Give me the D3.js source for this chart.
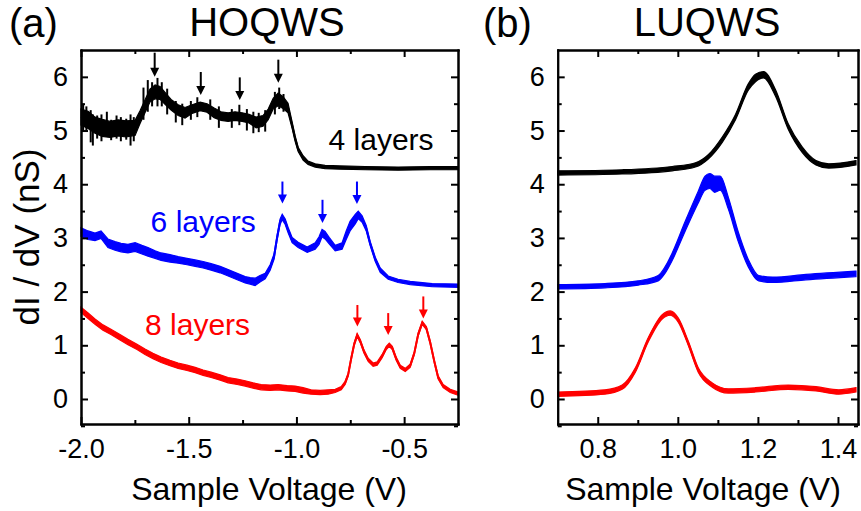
<!DOCTYPE html>
<html lang="en">
<head>
<meta charset="UTF-8">
<title>HOQWS / LUQWS dI/dV spectra</title>
<style>
  body, html { margin: 0; background: #fff; overflow: hidden; }
  text { font-family: "Liberation Sans", Arial, sans-serif; fill: #000; }
  .axis path, .axis line { stroke: #000; stroke-width: 2px; }
</style>
</head>
<body>
<div id="chart"></div>
<script src="https://d3js.org/d3.v7.min.js"></script>
<script>
// each point: [sample voltage (V), dI/dV (nS), noise half-width (nS)]
const hoqws4 = [
  [-2.000,5.25,.15],[-1.967,5.20,.16],[-1.935,5.10,.15],[-1.902,5.05,.16],[-1.865,5.02,.15],
  [-1.828,5.05,.15],[-1.791,5.03,.15],[-1.749,5.05,.14],[-1.726,5.25,.12],[-1.703,5.45,.12],
  [-1.680,5.65,.12],[-1.656,5.72,.13],[-1.633,5.70,.12],[-1.610,5.60,.11],[-1.582,5.48,.10],
  [-1.549,5.38,.10],[-1.517,5.33,.10],[-1.484,5.40,.08],[-1.447,5.45,.08],[-1.415,5.42,.08],
  [-1.382,5.33,.09],[-1.350,5.27,.08],[-1.317,5.25,.08],[-1.285,5.27,.08],[-1.252,5.25,.08],
  [-1.220,5.22,.08],[-1.187,5.15,.10],[-1.155,5.18,.10],[-1.131,5.30,.10],[-1.108,5.50,.10],
  [-1.085,5.58,.12],[-1.062,5.52,.11],[-1.039,5.42,.09],[-1.020,5.10,.06],[-1.006,4.85,.05],
  [-0.992,4.65,.04],[-0.969,4.49,.04],[-0.946,4.40,.03],[-0.913,4.35,.03],[-0.867,4.32,.03],
  [-0.797,4.31,.03],[-0.681,4.30,.03],[-0.528,4.29,.03],[-0.379,4.30,.03],[-0.250,4.30,.03]
];
// single noise spikes: [voltage, low, high]
const spikes4 = [
  [-1.990,4.98,5.50],[-1.975,5.00,5.45],[-1.955,4.78,5.38],[-1.945,4.72,5.30],[-1.925,4.85,5.28],
  [-1.905,4.80,5.30],[-1.880,4.95,5.35],[-1.860,4.82,5.20],[-1.835,4.85,5.28],[-1.815,4.80,5.25],
  [-1.790,4.83,5.22],[-1.770,4.72,5.30],[-1.755,4.80,5.25],[-1.710,5.20,5.80],[-1.690,5.35,5.94],
  [-1.670,5.45,5.90],[-1.645,5.45,5.98],[-1.625,5.45,5.90],[-1.600,5.30,5.78],[-1.560,5.15,5.55],
  [-1.530,5.10,5.50],[-1.490,5.20,5.55],[-1.460,5.25,5.62],[-1.400,5.20,5.58],[-1.360,5.05,5.45],
  [-1.300,5.05,5.40],[-1.265,5.10,5.48],[-1.230,5.00,5.40],[-1.200,4.95,5.35],[-1.175,4.97,5.33],
  [-1.145,4.98,5.38],[-1.100,5.30,5.72],[-1.080,5.40,5.80],[-1.060,5.35,5.68]
];
const hoqws6 = [
  [-2.000,3.11,.08],[-1.967,3.05,.08],[-1.935,3.02,.07],[-1.907,3.06,.07],[-1.875,2.90,.08],
  [-1.842,2.85,.08],[-1.814,2.82,.08],[-1.782,2.80,.08],[-1.749,2.83,.08],[-1.717,2.78,.08],
  [-1.689,2.74,.08],[-1.656,2.69,.07],[-1.628,2.65,.07],[-1.587,2.62,.07],[-1.549,2.59,.06],
  [-1.508,2.56,.06],[-1.470,2.53,.06],[-1.433,2.50,.06],[-1.396,2.46,.06],[-1.354,2.41,.06],
  [-1.317,2.35,.06],[-1.275,2.28,.06],[-1.238,2.22,.06],[-1.215,2.20,.06],[-1.192,2.18,.07],
  [-1.169,2.24,.06],[-1.145,2.29,.05],[-1.122,2.45,.05],[-1.104,2.65,.05],[-1.090,3.00,.05],
  [-1.076,3.30,.05],[-1.066,3.39,.05],[-1.052,3.30,.05],[-1.039,3.15,.05],[-1.020,2.96,.05],
  [-0.992,2.87,.05],[-0.950,2.78,.05],[-0.913,2.85,.06],[-0.895,2.95,.07],[-0.881,3.09,.07],
  [-0.867,3.05,.07],[-0.848,2.95,.06],[-0.820,2.81,.05],[-0.788,2.85,.06],[-0.769,3.05,.08],
  [-0.751,3.22,.09],[-0.727,3.35,.09],[-0.713,3.43,.07],[-0.695,3.35,.06],[-0.676,3.18,.05],
  [-0.658,2.90,.04],[-0.634,2.60,.04],[-0.611,2.40,.04],[-0.574,2.26,.03],[-0.528,2.20,.03],
  [-0.472,2.16,.03],[-0.370,2.12,.03],[-0.250,2.11,.03]
];
const hoqws8 = [
  [-2.000,1.66,.05],[-1.967,1.55,.05],[-1.935,1.44,.05],[-1.898,1.33,.05],[-1.861,1.25,.05],
  [-1.819,1.15,.05],[-1.782,1.06,.05],[-1.740,0.97,.05],[-1.703,0.88,.05],[-1.666,0.80,.05],
  [-1.628,0.73,.05],[-1.587,0.67,.05],[-1.549,0.62,.05],[-1.508,0.58,.05],[-1.470,0.54,.05],
  [-1.433,0.49,.05],[-1.396,0.45,.05],[-1.354,0.40,.05],[-1.317,0.35,.05],[-1.275,0.32,.05],
  [-1.238,0.29,.05],[-1.201,0.25,.05],[-1.164,0.22,.05],[-1.122,0.21,.05],[-1.085,0.22,.05],
  [-1.043,0.20,.05],[-1.006,0.19,.05],[-0.969,0.16,.05],[-0.932,0.13,.04],[-0.890,0.12,.04],
  [-0.853,0.13,.04],[-0.820,0.15,.03],[-0.792,0.20,.03],[-0.774,0.30,.03],[-0.760,0.45,.03],
  [-0.746,0.75,.03],[-0.732,1.02,.03],[-0.718,1.19,.03],[-0.704,1.08,.03],[-0.686,0.88,.03],
  [-0.667,0.73,.03],[-0.644,0.64,.03],[-0.625,0.66,.03],[-0.602,0.80,.03],[-0.583,0.95,.03],
  [-0.569,1.01,.03],[-0.555,0.95,.03],[-0.537,0.75,.03],[-0.518,0.60,.03],[-0.495,0.54,.03],
  [-0.472,0.62,.03],[-0.453,0.85,.03],[-0.435,1.20,.03],[-0.416,1.42,.03],[-0.397,1.32,.03],
  [-0.379,1.05,.03],[-0.360,0.70,.03],[-0.342,0.40,.03],[-0.319,0.24,.03],[-0.286,0.15,.03],
  [-0.250,0.10,.03]
];
const luqws4 = [
  [0.700,4.21,.04],[0.861,4.23,.04],[0.986,4.29,.04],[1.044,4.36,.04],[1.076,4.51,.04],
  [1.111,4.83,.05],[1.144,5.25,.05],[1.176,5.81,.06],[1.194,5.98,.07],[1.214,6.04,.06],
  [1.244,5.70,.06],[1.276,5.07,.05],[1.311,4.64,.05],[1.345,4.40,.04],[1.377,4.34,.04],
  [1.445,4.40,.04]
];
const luqws6 = [
  [0.700,2.09,.04],[0.818,2.11,.04],[0.901,2.16,.04],[0.951,2.25,.05],[0.968,2.40,.06],
  [0.986,2.65,.07],[1.018,3.21,.09],[1.051,3.76,.11],[1.068,4.02,.13],[1.080,4.06,.14],
  [1.092,4.00,.15],[1.106,4.02,.13],[1.126,3.65,.11],[1.151,3.02,.09],[1.176,2.53,.07],
  [1.202,2.25,.05],[1.237,2.22,.05],[1.320,2.27,.05],[1.445,2.33,.05]
];
const luqws8 = [
  [0.700,0.09,.04],[0.818,0.13,.04],[0.861,0.22,.04],[0.894,0.54,.04],[0.926,1.10,.04],
  [0.961,1.53,.04],[0.981,1.60,.04],[1.001,1.47,.04],[1.026,1.04,.04],[1.051,0.54,.04],
  [1.086,0.26,.04],[1.126,0.15,.04],[1.194,0.17,.04],[1.276,0.22,.04],[1.345,0.19,.04],
  [1.402,0.13,.04],[1.445,0.17,.04]
];
// arrows: [voltage, tail y, tip y]
const arrows4 = [[-1.658,6.45,6.00],[-1.444,6.09,5.66],[-1.263,5.99,5.57],[-1.084,6.32,5.89]];
const arrows6 = [[-1.065,4.05,3.64],[-0.879,3.71,3.28],[-0.719,4.05,3.63]];
const arrows8 = [[-0.717,1.75,1.35],[-0.574,1.60,1.19],[-0.411,1.91,1.50]];
// curve labels: [text, centre voltage, baseline y]
const layerLabels = [["4 layers",-0.607,4.64],["6 layers",-1.433,3.11],["8 layers",-1.459,1.19]];
const colors = ["#000000","#0000ff","#ff0000"];

const xTicksA = [-2.0,-1.5,-1.0,-0.5], xMinorA = [-1.75,-1.25,-0.75,-0.25];
const xTicksB = [0.8,1.0,1.2,1.4], xMinorB = [0.9,1.1,1.3];
const yTicks = [0,1,2,3,4,5,6], yMinor = [-0.5,0.5,1.5,2.5,3.5,4.5,5.5];

const W = 861, H = 511;
const svg = d3.select("#chart").append("svg").attr("width", W).attr("height", H);

const y = d3.scaleLinear().domain([-0.466, 6.5]).range([424, 50]);
const xA = d3.scaleLinear().domain([-2.0, -0.25]).range([81, 458]);
const xB = d3.scaleLinear().domain([0.7, 1.45]).range([557.7, 858]);

// plain hyphen instead of the unicode minus d3 uses
const fmt1 = v => d3.format(".1f")(v).replace("\u2212", "-");

function frame(x, majors, minors) {
  const [x0, x1] = x.range(), [y0, y1] = y.range();
  const inside = minors.filter(v => v > x.domain()[0] && v < x.domain()[1]);
  const g = svg.append("g");
  g.append("g").attr("class", "axis").attr("transform", `translate(0,${y0})`)
    .call(d3.axisBottom(x).tickValues(majors).tickSize(-7).tickSizeOuter(0).tickPadding(15).tickFormat(fmt1))
    .call(a => a.selectAll("text").attr("font-size", 27).attr("font-family", "Liberation Sans, Arial"));
  g.append("g").attr("class", "axis").attr("transform", `translate(0,${y0})`)
    .call(d3.axisBottom(x).tickValues(inside).tickSize(-4).tickSizeOuter(0).tickFormat(""));
  g.append("g").attr("class", "axis").attr("transform", `translate(0,${y1})`)
    .call(d3.axisTop(x).tickValues(majors).tickSize(-7).tickSizeOuter(0).tickFormat(""));
  g.append("g").attr("class", "axis").attr("transform", `translate(0,${y1})`)
    .call(d3.axisTop(x).tickValues(inside).tickSize(-4).tickSizeOuter(0).tickFormat(""));
  g.append("g").attr("class", "axis").attr("transform", `translate(${x0},0)`)
    .call(d3.axisLeft(y).tickValues(yTicks).tickSize(-7).tickSizeOuter(0).tickPadding(13).tickFormat(d3.format("d")))
    .call(a => a.selectAll("text").attr("font-size", 27).attr("font-family", "Liberation Sans, Arial"));
  g.append("g").attr("class", "axis").attr("transform", `translate(${x0},0)`)
    .call(d3.axisLeft(y).tickValues(yMinor).tickSize(-4).tickSizeOuter(0).tickFormat(""));
  g.append("g").attr("class", "axis").attr("transform", `translate(${x1},0)`)
    .call(d3.axisRight(y).tickValues(yTicks).tickSize(-7).tickSizeOuter(0).tickFormat(""));
  g.append("g").attr("class", "axis").attr("transform", `translate(${x1},0)`)
    .call(d3.axisRight(y).tickValues(yMinor).tickSize(-4).tickSizeOuter(0).tickFormat(""));
  g.selectAll(".domain").attr("stroke-linecap", "square");
}

function trace(x, data, color, smooth) {
  const curve = smooth ? d3.curveMonotoneX : d3.curveLinear;
  const band = d3.area().x(d => x(d[0])).y0(d => y(d[1] - d[2])).y1(d => y(d[1] + d[2])).curve(curve);
  const line = d3.line().x(d => x(d[0])).y(d => y(d[1])).curve(curve);
  svg.append("path").attr("d", band(data)).attr("fill", color).attr("stroke", color).attr("stroke-width", 1.2);
  svg.append("path").attr("d", line(data)).attr("fill", "none").attr("stroke", color).attr("stroke-width", 2);
}

function drawSpikes(list, color) {
  svg.append("g").selectAll("line").data(list).join("line")
    .attr("x1", d => xA(d[0])).attr("x2", d => xA(d[0]))
    .attr("y1", d => y(d[1])).attr("y2", d => y(d[2]))
    .attr("stroke", color).attr("stroke-width", 2);
}

function drawArrows(list, color) {
  list.forEach(([v, t, tip]) => {
    const px = xA(v), py0 = y(t), py1 = y(tip);
    svg.append("line").attr("x1", px).attr("x2", px).attr("y1", py0).attr("y2", py1 - 6)
      .attr("stroke", color).attr("stroke-width", 2);
    svg.append("path").attr("d", `M${px - 4.5},${py1 - 9}L${px + 4.5},${py1 - 9}L${px},${py1}Z`).attr("fill", color);
  });
}

// panel (a)
[hoqws4, hoqws6, hoqws8].forEach((s, i) => trace(xA, s, colors[i], false));
drawSpikes(spikes4, colors[0]);
drawArrows(arrows4, colors[0]);
drawArrows(arrows6, colors[1]);
drawArrows(arrows8, colors[2]);
layerLabels.forEach(([t, v, val], i) => {
  svg.append("text").attr("x", xA(v)).attr("y", y(val)).attr("text-anchor", "middle")
    .attr("font-size", 30).style("fill", colors[i]).text(t);
});
frame(xA, xTicksA, xMinorA);

// panel (b)
[luqws4, luqws6, luqws8].forEach((s, i) => trace(xB, s, colors[i], true));
frame(xB, xTicksB, xMinorB);

// titles
svg.append("text").attr("x", 9).attr("y", 37).attr("font-size", 40).text("(a)");
svg.append("text").attr("x", 267).attr("y", 36).attr("text-anchor", "middle").attr("font-size", 40).text("HOQWS");
svg.append("text").attr("x", 483).attr("y", 37).attr("font-size", 40).text("(b)");
svg.append("text").attr("x", 707).attr("y", 36).attr("text-anchor", "middle").attr("font-size", 40).text("LUQWS");
svg.append("text").attr("x", 269).attr("y", 500).attr("text-anchor", "middle").attr("font-size", 32).text("Sample Voltage (V)");
svg.append("text").attr("x", 703).attr("y", 500).attr("text-anchor", "middle").attr("font-size", 32).text("Sample Voltage (V)");
svg.append("text").attr("transform", "translate(39,237) rotate(-90)").attr("text-anchor", "middle")
  .attr("font-size", 35).text("dI / dV (nS)");
</script>
</body>
</html>
